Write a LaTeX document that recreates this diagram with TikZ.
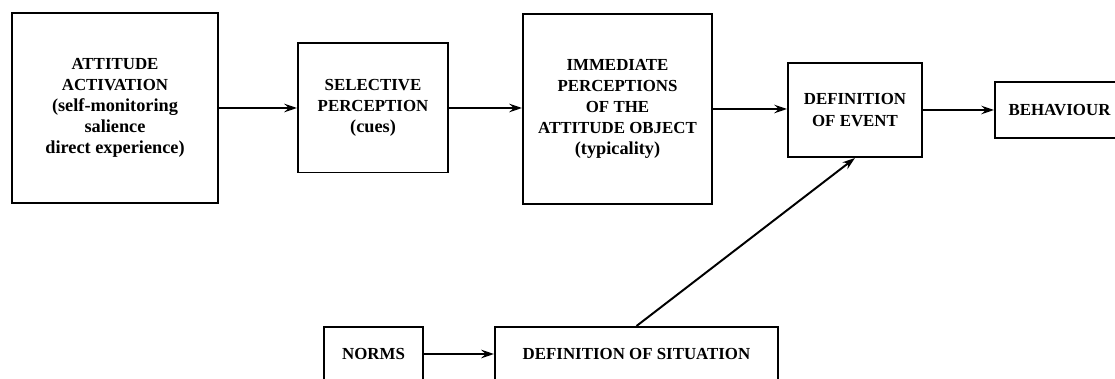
\documentclass[tikz,border=0pt]{standalone}
\usepackage{fontspec}
\setmainfont{Liberation Serif}
\usepackage{tikz}
\usetikzlibrary{arrows.meta}
\newcommand{\capsz}{\fontsize{12}{15}\selectfont}
\newcommand{\lowsz}{\fontsize{13}{16}\selectfont}

\begin{document}
\begin{tikzpicture}[x=0.025cm,y=-0.025cm,
  blockbox/.style={draw,line width=1.4pt,align=center,inner sep=0pt,font=\bfseries\capsz},
  flow/.style={line width=1.4pt,-{Stealth[length=9pt,width=6pt,inset=3pt]}}]
\useasboundingbox (0,0) rectangle (1115,379);
\clip (0,0) rectangle (1115,379);
% upper chain
\node[blockbox,minimum width=5.15cm,minimum height=4.725cm] (act) at (115,108)
  {ATTITUDE\\ACTIVATION\\{\lowsz(self-monitoring}\\{\lowsz salience}\\{\lowsz direct experience)}};
\node[blockbox,minimum width=3.75cm,minimum height=3.225cm] (sel) at (373,108)
  {SELECTIVE\\PERCEPTION\\{\lowsz(cues)}};
\node[blockbox,minimum width=4.725cm,minimum height=4.725cm] (imm) at (617.5,109)
  {IMMEDIATE\\PERCEPTIONS\\OF THE\\ATTITUDE OBJECT\\{\lowsz(typicality)}};
\node[blockbox,minimum width=3.35cm,minimum height=2.35cm] (evt) at (855,110)
  {DEFINITION\\OF EVENT};
\node[blockbox,minimum width=3.225cm,minimum height=1.4cm] (beh) at (1059.5,110)
  {BEHAVIOUR};
% lower row
\node[blockbox,minimum width=2.475cm,minimum height=1.35cm] (nrm) at (373.5,354)
  {NORMS};
\node[blockbox,minimum width=7.075cm,minimum height=1.35cm] (sit) at (636.5,354)
  {DEFINITION OF SITUATION};

\draw[flow] (act) -- (sel);
\draw[flow] (sel.east) -- (sel.east -| imm.west);
\draw[flow] (imm.east) -- (imm.east -| evt.west);
\draw[flow] (evt.east) -- (evt.east -| beh.west);
\draw[flow] (nrm) -- (sit);
\draw[flow] (sit.north) -- (evt.south);
\end{tikzpicture}
\end{document}
